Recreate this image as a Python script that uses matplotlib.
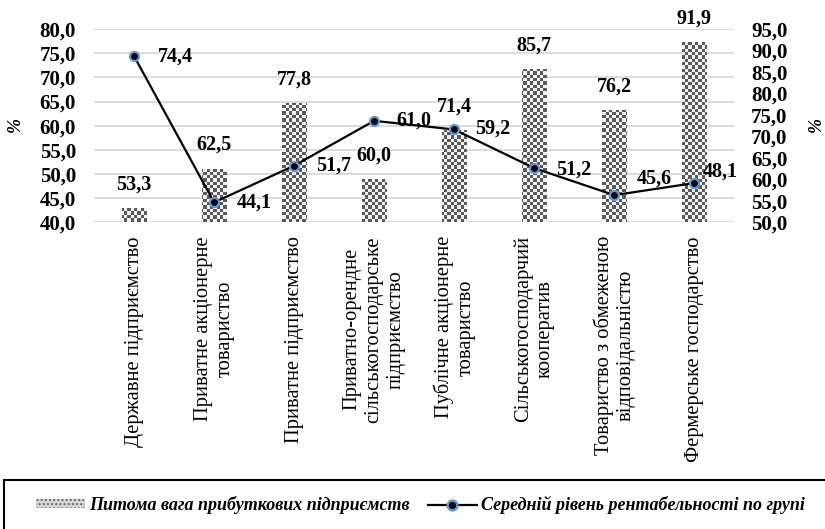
import numpy as np
import matplotlib
matplotlib.use('Agg')
import matplotlib.pyplot as plt
from matplotlib.patches import Patch, Rectangle
from matplotlib.lines import Line2D
from matplotlib.ticker import FuncFormatter

categories = [
    'Державне підприємство',
    'Приватне акціонерне\nтовариство',
    'Приватне підприємство',
    'Приватно-орендне\nсільськогосподарське\nпідприємство',
    'Публічне акціонерне\nтовариство',
    'Сільськогосподарчий\nкооператив',
    'Товариство з обмеженою\nвідповідальністю',
    'Фермерське господарство',
]
share_profitable = [53.3, 62.5, 77.8, 60.0, 71.4, 85.7, 76.2, 91.9]   # bars, right axis
profitability = [74.4, 44.1, 51.7, 61.0, 59.2, 51.2, 45.6, 48.1]      # line, left axis
bar_name = 'Питома вага прибуткових підприємств'
line_name = 'Середній рівень рентабельності по групі'

plt.rcParams['font.family'] = ['Liberation Serif', 'DejaVu Serif']

def comma(v, pos=None):
    return f'{v:.1f}'.replace('.', ',')

fig = plt.figure(figsize=(8.25, 5.29), dpi=100)
ax = fig.add_axes([0.114, 0.580, 0.776, 0.365])   # line, left scale
ax2 = ax.twinx()                                   # bars, right scale
ax.set_zorder(ax2.get_zorder() + 1)
ax.patch.set_visible(False)

x = np.arange(len(categories))

# left scale
ax.set_ylim(40, 80)
ax.set_yticks(np.arange(40, 80.1, 5))
ax.yaxis.set_major_formatter(FuncFormatter(comma))
ax2.set_ylim(50, 95)
ax2.set_yticks(np.arange(50, 95.1, 5))
ax2.yaxis.set_major_formatter(FuncFormatter(comma))
ax.set_xlim(-0.5, len(categories) - 0.5)

# gridlines behind bars, following the left scale
ax2.hlines(ax.get_yticks(), 0, 1, transform=ax.get_yaxis_transform(),
           color='#d9d9d9', lw=1.3, zorder=0)

# bars with checker fill
bars = ax2.bar(x, share_profitable, width=0.31, color='none', edgecolor='none', zorder=2)
w_px = fig.get_figwidth() * fig.dpi * 0.776
h_px = fig.get_figheight() * fig.dpi * 0.365
cell = 3.3
ncol, nrow = int(w_px / cell), int(h_px / cell)
checker = (np.add.outer(np.arange(nrow), np.arange(ncol)) % 2).astype(float)
cmap = matplotlib.colors.ListedColormap(['#5a5a5a', '#f2f2f2'])
xl, yl = ax2.get_xlim(), ax2.get_ylim()
for b in bars:
    im = ax2.imshow(checker, cmap=cmap, extent=[xl[0], xl[1], yl[0], yl[1]],
                    aspect='auto', interpolation='nearest', zorder=2)
    im.set_clip_path(b)
ax2.set_xlim(xl)
ax2.set_ylim(yl)

for xi, v in zip(x, share_profitable):
    ax2.annotate(comma(v), (xi, v), xytext=(0, 17), textcoords='offset points',
                 ha='center', va='center', fontsize=14.5, fontweight='bold')

# line
ax.plot(x, profitability, color='black', lw=1.6, marker='o', markersize=6.5,
        markerfacecolor='black', markeredgecolor='#5b9bd5', markeredgewidth=1.6, zorder=5)
offsets = [(17, 0), (16, 0), (16, 0), (16, 0), (15, 1), (16, -1), (16, 12), (6, 8)]
for xi, v, off in zip(x, profitability, offsets):
    ax.annotate(comma(v), (xi, v), xytext=off, textcoords='offset points',
                ha='left', va='center', fontsize=14.5, fontweight='bold', zorder=6)

for a in (ax, ax2):
    for s in a.spines.values():
        s.set_visible(False)
    a.tick_params(axis='y', length=0, labelsize=15)
    for t in a.get_yticklabels():
        t.set_fontweight('bold')
ax.tick_params(axis='y', pad=13)
ax2.tick_params(axis='y', pad=12)
ax2.set_xticks([])
ax.set_xticks(x)
ax.set_xticklabels(categories, rotation=90, ha='center', va='top',
                   multialignment='center', fontsize=14.8, linespacing=1.2)
ax.tick_params(axis='x', length=0, pad=10)

fig.text(0.018, 0.765, '%', rotation=90, ha='center', va='center', fontsize=13,
         fontweight='bold', style='italic')
fig.text(0.99, 0.765, '%', rotation=90, ha='center', va='center', fontsize=13,
         fontweight='bold', style='italic')

# legend box (cut by the figure edge)
fig.add_artist(Rectangle((4 / 825, -0.05), 1.0, (529 - 480) / 529 + 0.05,
                         transform=fig.transFigure, fill=False, edgecolor='black',
                         lw=1.5, clip_on=False))
handles = [
    Patch(facecolor='#d8d8d8', edgecolor='#666666', hatch='....', lw=0, label=bar_name),
    Line2D([], [], color='black', lw=1.6, marker='o', markersize=7,
           markerfacecolor='black', markeredgecolor='#5b9bd5', markeredgewidth=1.8,
           label=line_name),
]
fig.legend(handles=handles, loc='center left', bbox_to_anchor=(20 / 825, 1 - 505 / 529),
           ncol=2, frameon=False, handlelength=2.7, handleheight=0.4,
           handletextpad=0.25, columnspacing=1.0,
           prop={'family': ['Liberation Serif'], 'style': 'italic', 'weight': 'bold', 'size': 13})

fig.savefig('out.png', dpi=100)
